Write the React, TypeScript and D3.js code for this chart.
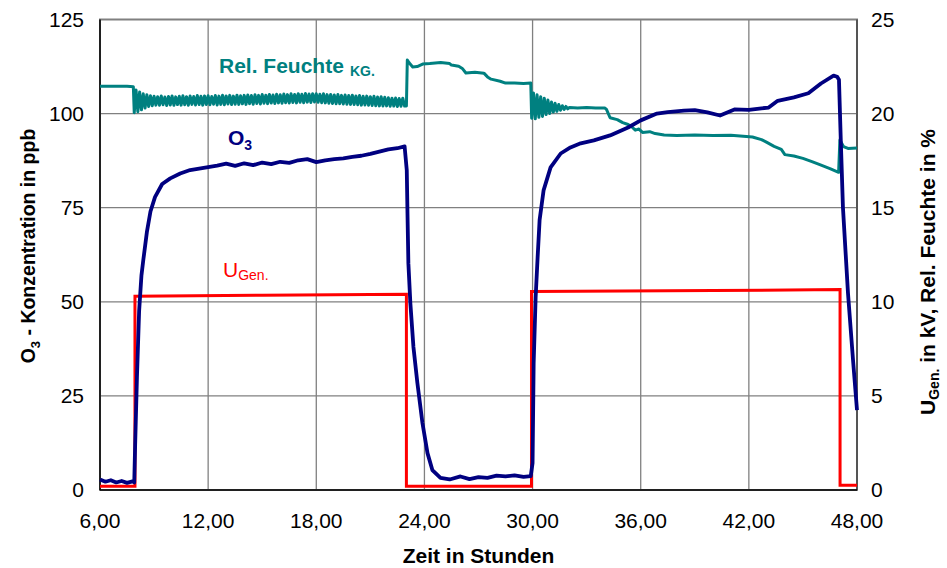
import React from "react";
import * as d3 from "d3";

// axis ticks
const hourTicks = [6, 12, 18, 24, 30, 36, 42, 48];
const o3Ticks = [0, 25, 50, 75, 100, 125];
const rightTicks = [0, 5, 10, 15, 20, 25];

// O3 concentration in ppb: [hours, ppb]
const o3Data: [number, number][] = [
  [6.0, 2.8], [6.3, 2.2], [6.6, 2.6], [6.9, 2.0], [7.2, 2.4], [7.5, 1.9], [7.8, 2.3], [7.9, 2.0],
  [7.95, 12], [8.05, 30], [8.17, 47.5], [8.3, 57], [8.4, 61], [8.6, 68.5], [8.8, 74],
  [9.05, 77.8], [9.45, 81.3], [9.9, 82.8], [10.45, 84.1], [11.0, 85.0], [11.5, 85.4],
  [12.0, 85.8], [12.5, 86.2], [13.0, 86.7], [13.5, 86.1], [14.0, 86.8], [14.5, 86.3],
  [15.0, 87.0], [15.5, 86.6], [16.0, 87.2], [16.5, 86.9], [17.0, 87.6], [17.5, 87.9],
  [18.0, 87.1], [18.5, 87.6], [19.0, 87.9], [19.5, 88.1], [20.0, 88.5], [20.5, 88.8],
  [21.0, 89.3], [21.5, 89.9], [22.0, 90.5], [22.5, 90.8], [22.9, 91.3],
  [23.02, 85], [23.06, 73.5], [23.11, 60.2], [23.22, 49.6], [23.39, 38.0], [23.61, 28.4],
  [23.89, 17.8], [24.17, 9.8], [24.44, 5.3], [24.89, 3.2], [25.4, 2.8], [26.0, 3.6],
  [26.5, 2.9], [27.0, 3.4], [27.5, 3.2], [28.0, 3.8], [28.5, 3.6], [29.0, 3.9], [29.5, 3.5],
  [29.9, 3.7],
  [30.0, 7.2], [30.06, 33.7], [30.17, 51.2], [30.28, 61.8], [30.39, 71.7], [30.61, 79.6],
  [31.0, 85.7], [31.56, 89.4], [32.1, 91.0], [32.67, 92.1], [33.4, 92.9], [34.3, 94.2],
  [35.3, 96.3], [36.0, 98.2], [36.9, 100.0], [37.5, 100.4], [38.4, 100.8], [39.0, 100.9],
  [39.7, 100.3], [40.4, 99.5], [41.2, 101.1], [42.0, 101.0], [42.7, 101.4], [43.1, 101.6],
  [43.6, 103.4], [44.5, 104.3], [45.3, 105.4], [46.0, 108.0], [46.7, 110.1], [46.9, 109.8],
  [47.0, 109.0], [47.1, 93], [47.22, 75.1], [47.5, 52.3], [47.78, 34.5], [48.0, 21.2],
];

// generator voltage in kV: [hours, kV]
const uGenData: [number, number][] = [
  [6.0, 0.2], [7.94, 0.2], [7.94, 10.3], [15.0, 10.35], [23.0, 10.4], [23.0, 0.2],
  [29.94, 0.2], [29.94, 10.55], [40.0, 10.6], [47.06, 10.65], [47.06, 0.25], [48.0, 0.25],
];

// relative humidity in %: [hours, %]
const feuchteStart: [number, number][] = [[6.0, 21.45], [7.5, 21.45], [7.85, 21.43]];

// oscillating band, sampled every 0.1 h from 7.9 h
const feuchteBand1Start = 7.9;
const feuchteBand1: number[] = [
  20.05, 21.25, 20.10, 21.15, 20.20, 21.05, 20.30, 21.00, 20.38, 20.95,
  20.42, 20.92, 20.45, 20.90, 20.44, 20.93, 20.47, 20.88, 20.43, 20.91,
  20.46, 20.94, 20.44, 20.89, 20.48, 20.92, 20.45, 20.95, 20.47, 20.90,
  20.44, 20.93, 20.49, 20.91, 20.46, 20.96, 20.48, 20.92, 20.45, 20.94,
  20.48, 20.95, 20.47, 20.91, 20.50, 20.96, 20.46, 20.93, 20.49, 20.97,
  20.47, 20.94, 20.51, 20.97, 20.48, 20.93, 20.50, 20.98, 20.49, 20.95,
  20.52, 20.97, 20.49, 20.99, 20.53, 20.96, 20.50, 21.00, 20.54, 20.97,
  20.51, 21.01, 20.55, 20.98, 20.53, 21.02, 20.56, 20.99, 20.54, 21.03,
  20.57, 21.00, 20.55, 21.04, 20.58, 21.01, 20.56, 21.05, 20.59, 21.02,
  20.57, 21.06, 20.60, 21.03, 20.58, 21.07, 20.61, 21.04, 20.59, 21.06,
  20.62, 21.05, 20.60, 21.03, 20.58, 21.05, 20.57, 21.01, 20.55, 21.02,
  20.54, 20.99, 20.52, 21.01, 20.53, 20.97, 20.51, 20.99, 20.50, 20.96,
  20.49, 20.98, 20.48, 20.94, 20.47, 20.96, 20.45, 20.92, 20.46, 20.93,
  20.44, 20.90, 20.43, 20.92, 20.42, 20.88, 20.41, 20.90, 20.40, 20.87,
  20.41, 20.84, 20.39, 20.82, 20.40, 20.83, 20.38, 20.80, 20.39, 20.82,
  20.40,
];

const feuchteMid: [number, number][] = [
  [23.0, 20.40], [23.05, 22.85], [23.15, 22.7], [23.35, 22.48], [23.6, 22.5], [23.9, 22.63],
  [24.3, 22.66], [24.9, 22.72], [25.4, 22.66], [25.5, 22.58], [25.9, 22.52], [26.1, 22.4],
  [26.3, 22.16], [26.8, 22.2], [27.3, 22.15], [27.5, 21.95], [27.7, 21.83], [28.2, 21.72],
  [28.5, 21.62], [29.0, 21.62], [29.5, 21.6], [29.9, 21.62],
];

// second oscillating band, sampled every 0.1 h from 29.95 h
const feuchteBand2Start = 29.95;
const feuchteBand2: number[] = [
  19.75, 21.1, 19.72, 21.0, 19.8, 20.9, 19.85, 20.82, 19.95, 20.72,
  20.0, 20.62, 20.08, 20.55, 20.12, 20.48, 20.18, 20.42, 20.22, 20.38,
  20.25, 20.33,
];

const feuchteLate: [number, number][] = [
  [32.5, 20.30], [33.0, 20.33], [33.5, 20.3], [34.0, 20.3], [34.1, 20.22], [34.3, 19.78],
  [34.7, 19.68], [35.0, 19.52], [35.3, 19.42], [35.5, 19.3], [35.7, 19.12], [35.9, 19.18],
  [36.1, 19.0], [36.5, 19.04], [36.8, 18.94], [37.3, 18.86], [38.0, 18.84], [39.0, 18.86],
  [40.0, 18.84], [41.0, 18.85], [42.2, 18.76], [42.7, 18.62], [43.0, 18.47], [43.4, 18.26],
  [43.8, 18.1], [44.0, 17.82], [44.5, 17.75], [45.0, 17.62], [45.5, 17.45], [45.9, 17.3],
  [46.5, 17.08], [46.98, 16.88], [47.05, 18.6], [47.25, 18.25], [47.5, 18.15], [48.0, 18.17],
];

const feuchteData: [number, number][] = [
  ...feuchteStart,
  ...feuchteBand1.map((v, i): [number, number] => [feuchteBand1Start + i * 0.1, v]),
  ...feuchteMid,
  ...feuchteBand2.map((v, i): [number, number] => [feuchteBand2Start + i * 0.1, v]),
  ...feuchteLate,
];

const FONT = "'Liberation Sans', Arial, sans-serif";
const deLocale = d3.formatLocale({ decimal: ",", thousands: ".", grouping: [3], currency: ["", " €"] });
const fmtHour = deLocale.format(".2f");

export default function App() {
  const width = 947;
  const height = 568;
  const left = 100, right = 857, top = 19.5, bottom = 490;

  const x = d3.scaleLinear().domain([6, 48]).range([left, right]);
  const yL = d3.scaleLinear().domain([0, 125]).range([bottom, top]);
  const yR = d3.scaleLinear().domain([0, 25]).range([bottom, top]);

  const lineL = d3.line<[number, number]>().x((d) => x(d[0])).y((d) => yL(d[1]));
  const lineR = d3.line<[number, number]>().x((d) => x(d[0])).y((d) => yR(d[1]));

  return (
    <svg
      width={width}
      height={height}
      style={{ position: "absolute", left: 0, top: 0, background: "#fff" }}
      fontFamily={FONT}
    >
      {/* grid */}
      <g stroke="#808080" strokeWidth={1.3}>
        {hourTicks.slice(1, -1).map((t) => (
          <line key={"v" + t} x1={x(t)} x2={x(t)} y1={top} y2={bottom} />
        ))}
        {o3Ticks.slice(1, -1).map((t) => (
          <line key={"h" + t} x1={left} x2={right} y1={yL(t)} y2={yL(t)} />
        ))}
      </g>
      {/* plot frame */}
      <rect x={left} y={top} width={right - left} height={bottom - top} fill="none" stroke="#808080" strokeWidth={2} />
      <line x1={right} x2={right} y1={top} y2={bottom} stroke="#555" strokeWidth={2} />
      <line x1={left} x2={left} y1={top} y2={bottom} stroke="#000" strokeWidth={1.5} />
      <line x1={left} x2={right} y1={bottom} y2={bottom} stroke="#000" strokeWidth={1.5} />

      {/* series */}
      <path d={lineR(uGenData) || ""} fill="none" stroke="#ff0000" strokeWidth={3} strokeLinejoin="miter" />
      <path d={lineR(feuchteData) || ""} fill="none" stroke="#008080" strokeWidth={3} strokeLinejoin="round" />
      <path d={lineL(o3Data) || ""} fill="none" stroke="#000080" strokeWidth={3.8} strokeLinejoin="round" />

      {/* tick labels */}
      <g fontSize={21} fill="#000">
        {o3Ticks.map((t) => (
          <text key={"l" + t} x={84} y={yL(t)} dy="0.35em" textAnchor="end">{t}</text>
        ))}
        {rightTicks.map((t) => (
          <text key={"r" + t} x={871} y={yR(t)} dy="0.35em" textAnchor="start">{t}</text>
        ))}
        {hourTicks.map((t) => (
          <text key={"x" + t} x={x(t)} y={528} textAnchor="middle">{fmtHour(t)}</text>
        ))}
      </g>

      {/* axis titles */}
      <text x={(left + right) / 2} y={563} textAnchor="middle" fontSize={21} fontWeight="bold">
        Zeit in Stunden
      </text>
      <text transform="translate(35,246) rotate(-90)" textAnchor="middle" fontSize={19.5} fontWeight="bold">
        O<tspan fontSize={13} dy={5}>3</tspan>
        <tspan dy={-5}> - Konzentration in ppb</tspan>
      </text>
      <text transform="translate(935,272) rotate(-90)" textAnchor="middle" fontSize={21} fontWeight="bold">
        U<tspan fontSize={14} dy={4}>Gen.</tspan>
        <tspan dy={-4}> in kV, Rel. Feuchte in %</tspan>
      </text>

      {/* series labels */}
      <text x={219} y={73} fontSize={21} fontWeight="bold" fill="#008080">
        Rel. Feuchte<tspan fontSize={14} dx={6} dy={3}>KG.</tspan>
      </text>
      <text x={228} y={145} fontSize={21} fontWeight="bold" fill="#000080">
        O<tspan fontSize={14} dy={5}>3</tspan>
      </text>
      <text x={223} y={277} fontSize={21} fill="#ff0000">
        U<tspan fontSize={14} dy={3}>Gen.</tspan>
      </text>
    </svg>
  );
}
